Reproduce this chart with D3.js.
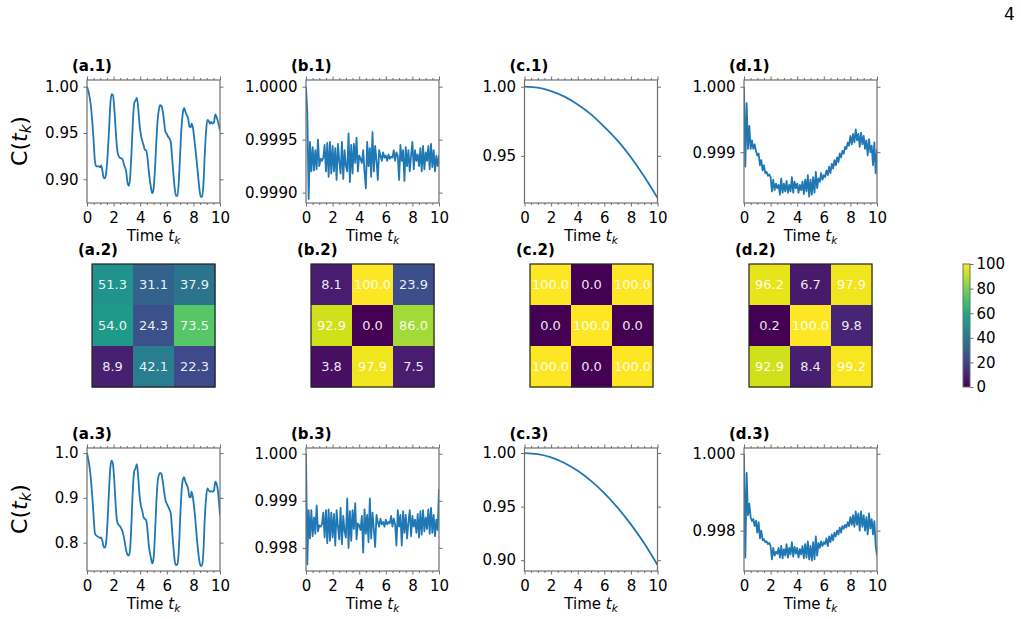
<!DOCTYPE html>
<html>
<head>
<meta charset="utf-8">
<script src="https://cdn.jsdelivr.net/npm/d3@7"></script>
<style>
  body { margin: 0; background: #fff; }
  text { font-family: "DejaVu Sans", sans-serif; }
</style>
</head>
<body>
<svg id="fig" width="1021" height="619"></svg>
<script>
// ---- data ----
const xTicks = [0, 2, 4, 6, 8, 10]
const xMinor = [0.5, 1, 1.5, 2.5, 3, 3.5, 4.5, 5, 5.5, 6.5, 7, 7.5, 8.5, 9, 9.5]

// (a) oscillating fidelity, same sample times for a.1 and a.3
const timeA = [0,0.25,0.4,0.5,0.6,0.7,0.9,1.0,1.05,1.15,1.25,1.35,1.45,1.55,1.65,1.75,1.85,1.95,2.05,2.15,
  2.25,2.35,2.5,2.65,2.8,2.95,3.05,3.15,3.25,3.35,3.45,3.55,3.65,3.75,3.85,3.95,4.05,4.15,4.25,4.35,
  4.45,4.55,4.65,4.8,4.9,5.0,5.1,5.2,5.3,5.4,5.5,5.6,5.7,5.8,5.9,6.0,6.1,6.2,6.3,6.4,
  6.5,6.6,6.7,6.8,6.9,7.0,7.1,7.2,7.3,7.4,7.5,7.6,7.7,7.8,7.85,7.95,8.05,8.15,8.3,8.45,
  8.55,8.65,8.75,8.85,8.95,9.05,9.15,9.25,9.35,9.45,9.55,9.65,9.75,9.85,10]
const a1Values = [1.000,0.984,0.962,0.941,0.919,0.914,0.914,0.913,0.915,0.910,
  0.902,0.901,0.908,0.926,0.951,0.980,0.992,0.991,0.977,0.955,
  0.935,0.926,0.923,0.922,0.915,0.908,0.896,0.893,0.903,0.930,
  0.962,0.982,0.985,0.988,0.977,0.959,0.948,0.942,0.937,0.932,
  0.931,0.923,0.908,0.892,0.885,0.889,0.908,0.937,0.962,0.975,
  0.980,0.979,0.973,0.962,0.951,0.949,0.946,0.944,0.940,0.923,
  0.905,0.890,0.882,0.882,0.897,0.926,0.955,0.971,0.977,0.973,
  0.969,0.966,0.957,0.956,0.960,0.957,0.946,0.933,0.912,0.890,
  0.881,0.881,0.894,0.926,0.951,0.964,0.963,0.960,0.962,0.960,
  0.962,0.970,0.967,0.962,0.953]
const a3Values = [1.000,0.955,0.902,0.857,0.820,0.816,0.812,0.810,0.812,0.805,
  0.791,0.789,0.803,0.850,0.914,0.966,0.983,0.976,0.940,0.887,
  0.850,0.841,0.836,0.827,0.808,0.782,0.773,0.771,0.789,0.850,
  0.921,0.959,0.966,0.975,0.947,0.906,0.883,0.872,0.857,0.853,
  0.850,0.827,0.793,0.767,0.754,0.763,0.812,0.880,0.932,0.951,
  0.956,0.953,0.936,0.914,0.895,0.887,0.881,0.874,0.865,0.827,
  0.789,0.759,0.750,0.752,0.782,0.850,0.910,0.940,0.946,0.936,
  0.929,0.921,0.902,0.901,0.914,0.904,0.880,0.850,0.797,0.759,
  0.748,0.750,0.778,0.850,0.898,0.921,0.917,0.914,0.915,0.914,
  0.917,0.936,0.931,0.914,0.861]

// (b) noisy plateau, sampled every 0.1
const timeFine = d3.range(0, 101).map(i => i / 10)
const b1Values = [1.00000,0.99975,0.99894,0.99948,0.99920,0.99943,0.99921,0.99940,0.99922,0.99950,
  0.99925,0.99932,0.99930,0.99933,0.99945,0.99920,0.99947,0.99915,0.99948,0.99918,
  0.99944,0.99920,0.99942,0.99912,0.99946,0.99930,0.99918,0.99948,0.99913,0.99940,
  0.99925,0.99920,0.99956,0.99910,0.99945,0.99918,0.99946,0.99928,0.99952,0.99920,
  0.99935,0.99932,0.99928,0.99940,0.99920,0.99904,0.99948,0.99925,0.99942,0.99915,
  0.99957,0.99920,0.99944,0.99930,0.99912,0.99940,0.99935,0.99930,0.99938,0.99933,
  0.99935,0.99930,0.99936,0.99932,0.99934,0.99933,0.99940,0.99930,0.99938,0.99935,
  0.99912,0.99945,0.99930,0.99940,0.99911,0.99943,0.99925,0.99940,0.99920,0.99935,
  0.99948,0.99922,0.99940,0.99930,0.99936,0.99925,0.99942,0.99920,0.99944,0.99922,
  0.99938,0.99930,0.99944,0.99922,0.99946,0.99924,0.99940,0.99920,0.99935,0.99925,
  0.99935]
const b3Values = [1.00000,0.99765,0.99880,0.99820,0.99880,0.99825,0.99865,0.99830,0.99890,0.99835,
  0.99848,0.99845,0.99850,0.99875,0.99822,0.99880,0.99810,0.99882,0.99815,0.99875,
  0.99822,0.99872,0.99805,0.99880,0.99845,0.99818,0.99885,0.99808,0.99868,0.99835,
  0.99822,0.99905,0.99800,0.99878,0.99815,0.99880,0.99840,0.99895,0.99818,0.99852,
  0.99848,0.99838,0.99868,0.99790,0.99882,0.99830,0.99870,0.99812,0.99905,0.99820,
  0.99875,0.99840,0.99802,0.99870,0.99855,0.99845,0.99862,0.99850,0.99855,0.99845,
  0.99860,0.99850,0.99855,0.99852,0.99868,0.99845,0.99862,0.99850,0.99805,0.99880,
  0.99845,0.99870,0.99805,0.99878,0.99832,0.99870,0.99820,0.99855,0.99880,0.99825,
  0.99868,0.99845,0.99860,0.99832,0.99872,0.99822,0.99878,0.99828,0.99880,0.99835,
  0.99865,0.99840,0.99882,0.99830,0.99885,0.99832,0.99870,0.99825,0.99860,0.99838,
  0.99925]

// (c) smooth decay
const timeC = [0,1,2,3,4,5,6,7,8,9,10]
const c1Values = [1.0000,0.9993,0.9968,0.9928,0.9872,0.9800,0.9710,0.9610,0.9490,0.9350,0.9196]
const c3Values = [1.0000,0.9990,0.9960,0.9907,0.9834,0.9740,0.9626,0.9490,0.9334,0.9157,0.8955]

// (d) dip and recovery
const d1Values = [1.00000,0.99878,0.99975,0.99905,0.99940,0.99905,0.99918,0.99905,0.99912,0.99902,
  0.99895,0.99898,0.99880,0.99888,0.99872,0.99880,0.99868,0.99870,0.99864,0.99866,
  0.99862,0.99840,0.99858,0.99842,0.99852,0.99845,0.99850,0.99835,0.99860,0.99838,
  0.99852,0.99840,0.99856,0.99838,0.99850,0.99840,0.99862,0.99838,0.99855,0.99845,
  0.99852,0.99838,0.99850,0.99842,0.99855,0.99836,0.99858,0.99840,0.99865,0.99832,
  0.99858,0.99835,0.99862,0.99838,0.99870,0.99845,0.99860,0.99855,0.99868,0.99858,
  0.99865,0.99862,0.99872,0.99865,0.99878,0.99868,0.99882,0.99875,0.99888,0.99880,
  0.99892,0.99885,0.99898,0.99892,0.99902,0.99898,0.99908,0.99905,0.99915,0.99910,
  0.99925,0.99912,0.99928,0.99915,0.99935,0.99918,0.99928,0.99908,0.99930,0.99912,
  0.99925,0.99905,0.99918,0.99895,0.99920,0.99900,0.99910,0.99880,0.99915,0.99868,
  0.99905]
const d3Values = [1.00000,0.99730,0.99950,0.99840,0.99870,0.99835,0.99825,0.99830,0.99812,0.99826,
  0.99795,0.99822,0.99780,0.99800,0.99775,0.99778,0.99770,0.99772,0.99765,0.99768,
  0.99760,0.99725,0.99755,0.99735,0.99745,0.99740,0.99755,0.99730,0.99760,0.99728,
  0.99752,0.99735,0.99765,0.99730,0.99755,0.99738,0.99770,0.99732,0.99758,0.99740,
  0.99755,0.99730,0.99752,0.99738,0.99760,0.99728,0.99765,0.99730,0.99772,0.99725,
  0.99760,0.99722,0.99770,0.99725,0.99785,0.99735,0.99768,0.99755,0.99772,0.99760,
  0.99770,0.99765,0.99780,0.99760,0.99785,0.99770,0.99790,0.99775,0.99795,0.99785,
  0.99800,0.99790,0.99808,0.99795,0.99812,0.99805,0.99815,0.99808,0.99822,0.99812,
  0.99835,0.99815,0.99840,0.99810,0.99850,0.99815,0.99845,0.99800,0.99850,0.99810,
  0.99840,0.99800,0.99835,0.99790,0.99845,0.99805,0.99830,0.99790,0.99825,0.99760,
  0.99735]

// y tick values per panel
const a1Ticks = [0.90, 0.95, 1.00]
const b1Ticks = [0.9990, 0.9995, 1.0000]
const c1Ticks = [0.95, 1.00]
const d1Ticks = [0.999, 1.000]
const a3Ticks = [0.8, 0.9, 1.0]
const b3Ticks = [0.998, 0.999, 1.000]
const c3Ticks = [0.90, 0.95, 1.00]
const d3Ticks = [0.998, 1.000]

// 3x3 population maps (%)
const heatA = [[51.3, 31.1, 37.9], [54.0, 24.3, 73.5], [8.9, 42.1, 22.3]]
const heatB = [[8.1, 100.0, 23.9], [92.9, 0.0, 86.0], [3.8, 97.9, 7.5]]
const heatC = [[100.0, 0.0, 100.0], [0.0, 100.0, 0.0], [100.0, 0.0, 100.0]]
const heatD = [[96.2, 6.7, 97.9], [0.2, 100.0, 9.8], [92.9, 8.4, 99.2]]
const colorbarTicks = [0, 20, 40, 60, 80, 100]

// ---- layout ----
const svg = d3.select("#fig")
const colLeft = [87, 306, 524.5, 744]
const plotW = 133
const rowTop = [80, 448]
const plotH = 123
const heatLeft = [92, 311, 530, 749]
const heatTop = 264
const heatSize = 123
const spine = "#6e6e6e"
const blue = "#1f77b4"

const linePanels = [
  { name: "(a.1)", col: 0, row: 0, t: timeA, v: a1Values, dom: [0.8744, 1.0072], ticks: a1Ticks, fmt: ".2f", smooth: true },
  { name: "(b.1)", col: 1, row: 0, t: timeFine, v: b1Values, dom: [0.998902, 1.0000634], ticks: b1Ticks, fmt: ".4f" },
  { name: "(c.1)", col: 2, row: 0, t: timeC, v: c1Values, dom: [0.9159, 1.00486], ticks: c1Ticks, fmt: ".2f", smooth: true },
  { name: "(d.1)", col: 3, row: 0, t: timeFine, v: d1Values, dom: [0.998224, 1.000103], ticks: d1Ticks, fmt: ".3f" },
  { name: "(a.3)", col: 0, row: 1, t: timeA, v: a3Values, dom: [0.7368, 1.0113], ticks: a3Ticks, fmt: ".1f", smooth: true },
  { name: "(b.3)", col: 1, row: 1, t: timeFine, v: b3Values, dom: [0.997509, 1.000122], ticks: b3Ticks, fmt: ".3f" },
  { name: "(c.3)", col: 2, row: 1, t: timeC, v: c3Values, dom: [0.8899, 1.0047], ticks: c3Ticks, fmt: ".2f", smooth: true },
  { name: "(d.3)", col: 3, row: 1, t: timeFine, v: d3Values, dom: [0.99695, 1.00015], ticks: d3Ticks, fmt: ".3f" },
]

const heatPanels = [
  { name: "(a.2)", col: 0, data: heatA },
  { name: "(b.2)", col: 1, data: heatB },
  { name: "(c.2)", col: 2, data: heatC },
  { name: "(d.2)", col: 3, data: heatD },
]

function styleAxis(sel) {
  sel.select(".domain").remove()
  sel.selectAll("line").attr("stroke", spine).attr("stroke-width", 1)
  sel.selectAll("text").attr("font-family", "DejaVu Sans").attr("font-size", 15).attr("fill", "#000")
  return sel
}

function drawLinePanel(p, i) {
  const left = colLeft[p.col], top = rowTop[p.row]
  const x = d3.scaleLinear().domain([0, 10]).range([left, left + plotW])
  const y = d3.scaleLinear().domain(p.dom).range([top + plotH, top])
  const g = svg.append("g")

  g.append("clipPath").attr("id", "clip" + i)
    .append("rect").attr("x", left).attr("y", top).attr("width", plotW).attr("height", plotH)

  const pts = p.t.map((t, k) => [t, p.v[k]])
  g.append("path")
    .datum(pts)
    .attr("clip-path", `url(#clip${i})`)
    .attr("fill", "none")
    .attr("stroke", blue)
    .attr("stroke-width", 1.8)
    .attr("stroke-linejoin", "round")
    .attr("d", d3.line().x(d => x(d[0])).y(d => y(d[1]))
      .curve(p.smooth ? d3.curveMonotoneX : d3.curveLinear))

  const bottom = `translate(0,${top + plotH})`
  styleAxis(g.append("g").attr("transform", bottom)
    .call(d3.axisBottom(x).tickValues(xTicks).tickSize(3.5).tickPadding(6).tickSizeOuter(0)))
  styleAxis(g.append("g").attr("transform", bottom)
    .call(d3.axisBottom(x).tickValues(xMinor).tickSize(2).tickFormat("")))
  styleAxis(g.append("g").attr("transform", `translate(0,${top})`)
    .call(d3.axisTop(x).tickValues(xTicks).tickSize(3.5).tickFormat("")))
  styleAxis(g.append("g").attr("transform", `translate(0,${top})`)
    .call(d3.axisTop(x).tickValues(xMinor).tickSize(2).tickFormat("")))
  styleAxis(g.append("g").attr("transform", `translate(${left},0)`)
    .call(d3.axisLeft(y).tickValues(p.ticks).tickFormat(d3.format(p.fmt)).tickSize(3.5).tickPadding(5)))
  styleAxis(g.append("g").attr("transform", `translate(${left + plotW},0)`)
    .call(d3.axisRight(y).tickValues(p.ticks).tickSize(3.5).tickFormat("")))

  g.append("rect")
    .attr("x", left).attr("y", top).attr("width", plotW).attr("height", plotH)
    .attr("fill", "none").attr("stroke", spine).attr("stroke-width", 1.2)

  g.append("text")
    .attr("x", left - 15).attr("y", top - 9)
    .attr("font-size", 15).attr("font-weight", "bold")
    .text(p.name)

  const lab = g.append("text")
    .attr("x", left + plotW / 2).attr("y", top + plotH + 38)
    .attr("text-anchor", "middle").attr("font-size", 15)
  lab.append("tspan").text("Time ")
  lab.append("tspan").attr("font-style", "italic").text("t")
  lab.append("tspan").attr("font-style", "italic").attr("font-size", 10.5).attr("dy", 3).text("k")
}

linePanels.forEach(drawLinePanel)

// ---- heatmaps ----
const color = v => d3.interpolateViridis(v / 100)
const cell = heatSize / 3

heatPanels.forEach(p => {
  const left = heatLeft[p.col]
  const g = svg.append("g")
  const cells = p.data.flatMap((row, r) => row.map((v, c) => ({ r, c, v })))
  g.selectAll("rect.cell")
    .data(cells)
    .join("rect")
    .attr("class", "cell")
    .attr("x", d => left + d.c * cell)
    .attr("y", d => heatTop + d.r * cell)
    .attr("width", cell + 0.5)
    .attr("height", cell + 0.5)
    .attr("fill", d => color(d.v))
  g.selectAll("text.val")
    .data(cells)
    .join("text")
    .attr("class", "val")
    .attr("x", d => left + (d.c + 0.5) * cell)
    .attr("y", d => heatTop + (d.r + 0.5) * cell)
    .attr("dy", "0.36em")
    .attr("text-anchor", "middle")
    .attr("font-size", 13)
    .attr("fill", "#fff")
    .attr("fill-opacity", 0.92)
    .text(d => d.v.toFixed(1))
  g.append("rect")
    .attr("x", left).attr("y", heatTop).attr("width", heatSize).attr("height", heatSize)
    .attr("fill", "none").attr("stroke", "#222").attr("stroke-width", 1.2)
  g.append("text")
    .attr("x", left - 14).attr("y", heatTop - 9)
    .attr("font-size", 15).attr("font-weight", "bold")
    .text(p.name)
})

// ---- colorbar ----
const cbX = 963, cbW = 7
const cbScale = d3.scaleLinear().domain([0, 100]).range([heatTop + heatSize, heatTop])
const grad = svg.append("defs").append("linearGradient")
  .attr("id", "viridis").attr("x1", 0).attr("y1", 1).attr("x2", 0).attr("y2", 0)
grad.selectAll("stop")
  .data(d3.range(0, 1.001, 0.1))
  .join("stop")
  .attr("offset", d => d)
  .attr("stop-color", d => d3.interpolateViridis(d))
svg.append("rect")
  .attr("x", cbX).attr("y", heatTop).attr("width", cbW).attr("height", heatSize)
  .attr("fill", "url(#viridis)").attr("stroke", spine).attr("stroke-width", 1)
styleAxis(svg.append("g").attr("transform", `translate(${cbX + cbW},0)`)
  .call(d3.axisRight(cbScale).tickValues(colorbarTicks).tickSize(3.5).tickPadding(3)))

// ---- y labels ----
;[141, 509].forEach(cy => {
  const t = svg.append("text")
    .attr("transform", `translate(27,${cy}) rotate(-90)`)
    .attr("text-anchor", "middle").attr("font-size", 22)
  t.append("tspan").text("C(")
  t.append("tspan").attr("font-style", "italic").text("t")
  t.append("tspan").attr("font-style", "italic").attr("font-size", 15).attr("dy", 4).text("k")
  t.append("tspan").attr("dy", -4).text(")")
})

// page number
svg.append("text")
  .attr("x", 1004).attr("y", 20)
  .attr("font-family", "DejaVu Serif").attr("font-size", 17)
  .text("4")
</script>
</body>
</html>
